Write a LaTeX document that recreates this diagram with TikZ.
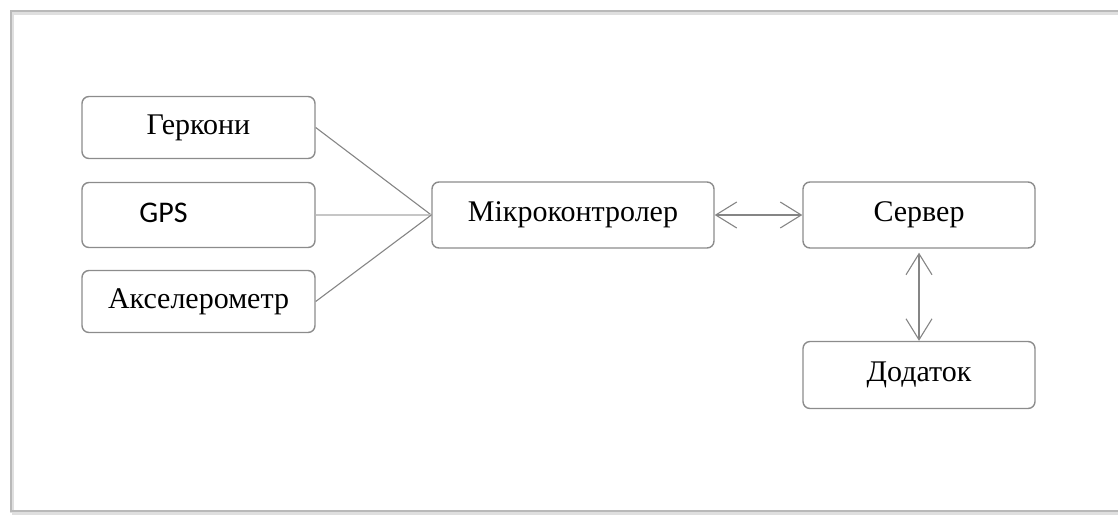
\documentclass[tikz,border=0pt]{standalone}
\usepackage{fontspec}
\setmainfont{Liberation Serif}
\newfontfamily\gpsfont{Carlito}
\usetikzlibrary{arrows.meta}
\definecolor{boxline}{HTML}{8C8C8C}
\definecolor{conline}{HTML}{858585}
\tikzset{
  blk/.style={draw=boxline, line width=1.4pt, rounded corners=7pt, fill=white,
    minimum height=62pt, inner sep=0pt, font=\fontsize{30}{34}\selectfont},
  con/.style={draw=conline, line width=1.1pt},
  bi/.style={con, {Straight Barb[length=21pt,width=26pt,line width=1.1pt]}-{Straight Barb[length=21pt,width=26pt,line width=1.1pt]}}
}
\begin{document}
\begin{tikzpicture}[x=1pt,y=-1pt]
\useasboundingbox (0,0) rectangle (1118,515);
% frame with soft shadow
\draw[gray!25, line width=4pt] (12,13) -- (1130,13);
\draw[gray!25, line width=4pt] (12,13) -- (12,513);
\draw[gray!25, line width=4pt] (12,513) -- (1130,513);
\draw[gray!55, line width=1.2pt] (1130,11) -- (11,11) -- (11,511) -- (1130,511);

\node[blk, minimum width=233pt] (ger) at (198.5,127.5) {Геркони};
\node[blk, minimum width=233pt, minimum height=65pt] (gps) at (198.5,215) {};
\node[font=\gpsfont\fontsize{30}{34}\selectfont, anchor=center] (gpst) at (163.5,213) {GPS};
\node[blk, minimum width=233pt] (acc) at (198.5,301.5) {Акселерометр};
\node[blk, minimum width=282pt, minimum height=66pt] (mcu) at (573,215) {Мікроконтролер};
\node[blk, minimum width=232pt, minimum height=66pt] (srv) at (919,215) {Сервер};
\node[blk, minimum width=232pt, minimum height=67pt] (app) at (919,375) {Додаток};

\coordinate (hub) at (mcu.west);
\draw[con] (ger.east) -- (hub);
\draw[con, draw=gray!45] (gps.east) -- (hub);
\draw[con] (acc.east) -- (hub);
\draw[bi] (mcu.east) -- (srv.west);
\draw[bi] ([yshift=-4pt]srv.south) -- (app.north);
\end{tikzpicture}
\end{document}
